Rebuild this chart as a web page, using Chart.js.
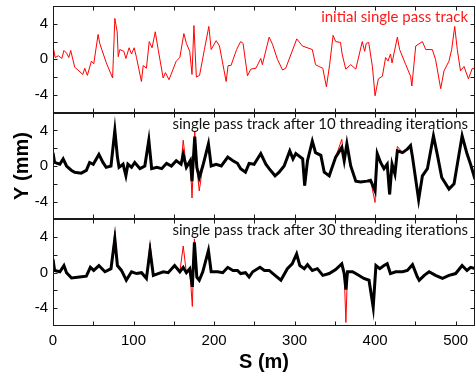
<!DOCTYPE html>
<html>
<head>
<meta charset="utf-8">
<script src="https://cdn.jsdelivr.net/npm/chart.js@4"></script>
<style>
  html, body { margin: 0; padding: 0; background: #fff; }
</style>
</head>
<body>
<canvas id="trackChart" width="476" height="375"></canvas>
<script>
"use strict";

// Panel 1: initial single pass track (S in m, Y in mm)
const sInitial = [0,2.7,6.8,11,13.6,16.8,19.6,22,27,31,37,39.4,42.7,47.7,50.6,56,58,66.2,74,76.8,
  79.7,81,83,88,90.5,94.5,97.5,100.8,103.7,109.8,112,116,119.5,123,127,130.6,136.8,139.6,144,153,
  157.5,162.5,165.6,169.8,172.6,175,178,182,188,193.5,196.4,202.6,206.7,215,217.4,221,228,233,236,241.5,
  245.6,252,258,260,268.4,272.5,278.7,285,289,302.7,309.7,322,326,330,335,339.5,343.5,347.8,351,357,
  359,363.5,369.7,376,384,387,389,392,396.6,399.9,404,409,413,416,419,421,427.6,430.4,438,444,
  445.6,450.4,458.7,462.8,471,475,481.4,485.5,491.7,495,498.8,502,506,510.4,515.8,520.7,524];
const yInitial = [1.5,0.2,0.4,0.1,1.0,0.7,0.2,1.0,-0.9,-1.2,-1.7,-1.0,-1.8,-0.2,-0.5,2.8,1.8,-0.4,-2.1,4.6,
  3.1,0.3,1.1,0.9,0.1,1.3,0.6,1.3,0.2,-2.5,-0.7,-1.0,2.0,1.3,3.1,1.1,-2.1,-1.5,-2.3,-0.2,
  0.2,2.9,1.8,0.9,-1.7,3.8,-2.0,-1.8,1.1,3.7,1.1,2.1,1.5,-2.5,-0.7,-0.7,1.1,2.0,1.8,-1.85,
  -1.1,-1.0,0.1,-0.6,2.5,1.7,0,-1.2,-1.0,2.3,1.5,1.1,-0.6,-0.8,-1.0,-3.1,-0.6,2.7,2.0,1.9,
  0.6,-1.1,-0.6,-1.1,2.0,0.9,1.8,1.9,-0.8,-4.1,-2.2,-1.9,0.2,-0.2,0.6,-0.4,2.5,1.1,-0.6,-1.9,
  -3.0,1.5,2.0,1.1,1.1,0,-3.3,-1.3,-0.2,1.1,3.7,1.1,-1.3,-0.8,-2.2,-1.0,-1.1];

// Panel 2: after 10 threading iterations
const sIter10 = [0,2,8.5,12.6,16.8,23,27,35,41.4,45.5,50,57,62,66,72,76.8,80,82,87,90.5,
  93,97.5,101.5,108,114,119,122.5,129,135,141,147,153,159,161.7,165.6,170.5,172.6,176,178.6,181.6,
  186,193,196.4,202.6,209,217,223.4,229,233,239,243.5,249.7,258,264.3,268.4,275.7,280.8,287,294,298,
  301.5,310,312.5,316,322,326,332.6,336.8,343,351,358.6,361.6,364.9,369.7,376,382,390,394.3,399.9,402.6,
  406.8,411,415,418,421,424.6,427.6,434,440,444,446.4,454,458.7,464.9,472.4,477.4,482.7,491.7,498,508,
  514,518.5,524];
const yIter10 = [1.5,0.4,0.2,0.8,0,-0.5,-0.7,-0.8,-0.5,0.4,0.2,1.3,0.4,-0.15,0,4.0,1.0,-0.15,0.2,-1.1,
  0.2,-0.15,0.4,-0.3,0,2.9,-0.3,-0.15,-0.3,0.3,0,0.6,0.2,1.3,-0.15,0.6,-1.7,3.3,-0.15,-1.3,
  0,2.5,0,0.2,0,1.0,0.6,0.3,-0.3,-0.7,0.3,0.2,1.4,0.2,-0.3,-1.1,-0.7,0,1.7,0.8,
  1.4,0.8,-2.2,0.6,2.8,1.5,1.2,-0.7,-1.1,1.0,2.1,0.6,2.5,0,-1.7,-1.8,-1.7,-1.6,-2.8,1.4,
  0.4,-0.3,0.2,-3.2,0.2,-0.9,1.7,1.5,1.9,2.3,1.0,-3.8,-1.1,-0.3,3.4,1.2,-1.3,-2.6,-2.0,3.4,
  1.4,0.2,-1.5];
const yIter10Raw = [1.9,0.4,0.2,0.8,0,-0.5,-0.7,-0.8,-0.5,0.4,0.2,1.3,0.4,-0.15,0,4.6,1.0,-0.15,0.2,-1.1,
  0.2,-0.15,0.4,-0.3,0,3.4,-0.3,-0.15,-0.3,0.3,0,0.6,0.2,2.9,-0.15,0.6,-3.6,3.9,-0.15,-2.8,
  0,2.5,0,0.2,0,1.0,0.6,0.3,-0.3,-0.7,0.3,0.2,1.4,0.2,-0.3,-1.1,-0.7,0,1.7,0.8,
  1.4,0.8,-2.2,0.6,2.8,1.5,1.2,-0.7,-1.1,1.0,3.0,0.6,2.5,0,-1.7,-1.8,-1.7,-1.6,-4.1,1.4,
  0.4,-0.3,0.2,-3.2,0.2,-0.9,2.2,1.5,1.9,2.3,1.0,-3.8,-1.1,-0.3,3.4,1.2,-1.3,-2.6,-2.0,3.4,
  1.4,0.2,-1.5];

// Panel 3: after 30 threading iterations
const sIter30 = [0,2,8.5,13.6,16.8,23,33,41.4,46.4,50.6,57,64.5,72,76.8,80,85,91,97.5,103.7,110,
  116,120.5,124.6,130.6,137,143,151,157.5,161.7,165.6,169.8,173,175.6,178.6,181.6,186,193,196.4,204.6,210.8,
  217,223.4,229,233,239,243.5,248,257,262.5,268.4,275.7,283,291,297,302.5,306.5,312,316,322,328.3,
  335,343,351,358.6,361.6,363.7,365.7,372,378,386,392.4,397.6,401,405.8,411,415,419,425.5,434,440,
  446.4,452.5,454.7,461,467,475,483.6,491.7,500,508,514,518.5,524];
const yIter30 = [1.5,0.25,0.1,0.8,0,-0.6,-0.5,-0.4,0.6,0.25,0.8,0.1,0.45,3.8,0.8,0.25,-0.85,0.1,-0.1,0,
  -0.65,2.5,-0.3,-0.1,0.1,0,0.8,0.1,0.6,0,0.45,-1.6,3.4,-0.5,-0.85,0.1,2.5,0.1,0.1,0,
  0.6,0.25,0.25,-0.1,0,-0.5,0.1,0.6,0.25,0.25,-0.3,-0.85,0.45,1.0,2.1,0.8,0.45,0.9,0.25,0.45,
  -0.3,-0.1,0.35,1.0,-0.1,-1.9,0.1,0.1,-0.2,-0.65,-0.85,-3.9,0.8,0.45,0.8,1.0,-0.1,0.1,0.1,0.25,
  0.9,-0.5,-0.85,-0.3,0.1,-0.3,-0.65,-0.3,-0.1,0.8,0.25,0.6,0.45];
const yIter30Raw = [2.0,0.25,0.1,0.8,0,-0.6,-0.5,-0.4,0.6,0.25,0.8,0.1,0.45,4.7,0.8,0.25,-0.85,0.1,-0.1,0,
  -0.65,3.3,-0.3,-0.1,0.1,0,0.8,0.1,3.0,0,0.45,-3.8,3.8,-0.5,-0.85,0.1,2.5,0.1,0.1,0,
  0.6,0.25,0.25,-0.1,0,-0.5,0.1,0.6,0.25,0.25,-0.3,-0.85,0.45,1.0,2.1,0.8,0.45,0.9,0.25,0.45,
  -0.3,-0.1,0.35,1.0,-0.1,-5.6,0.1,0.1,-0.2,-0.65,-0.85,-4.0,0.8,0.45,0.8,1.0,-0.1,0.1,0.1,0.25,
  0.9,-0.5,-0.85,-0.3,0.1,-0.3,-0.65,-0.3,-0.1,0.8,0.25,0.6,0.45];

const panelAxes = ['y1', 'y2', 'y3'];
const panelNotes = ['initial single pass track',
  'single pass track after 10 threading iterations',
  'single pass track after 30 threading iterations'];
const noteColors = ['#ff1a1a', '#111111', '#111111'];
const yLabelTicks = [-4, 0, 4];

const RED = '#ff0000';
const BLACK = '#000000';
const tickFont = { family: "'Liberation Sans', Arial, sans-serif", size: 15 };
const titleFont = { family: "'Liberation Sans', Arial, sans-serif", size: 20, weight: 'bold' };

/**
 * Gör om två arrayer till {x, y}-punkter för en linjär x-axel.
 */
function toPoints(s, y) {
    return s.map((x, i) => ({ x: x, y: y[i] }));
}

function lineSet(s, y, axis, color, width) {
    return {
        data: toPoints(s, y),
        yAxisID: axis,
        borderColor: color,
        borderWidth: width,
        pointRadius: 0,
        tension: 0,
        fill: false
    };
}

/**
 * Ritar ram, inåtriktade tickmarkeringar och paneltexter.
 */
const panelFrames = {
    id: 'panelFrames',
    afterDatasetsDraw(chart) {
        const { ctx, chartArea, scales } = chart;
        const xs = scales.x;
        const left = Math.round(chartArea.left) + 0.5;
        const right = Math.round(chartArea.right) - 0.5;

        ctx.save();
        ctx.strokeStyle = '#1a1a1a';
        ctx.lineWidth = 1;

        panelAxes.forEach((id, i) => {
            const ys = scales[id];
            const top = Math.round(ys.top) + 0.5;
            const bottom = Math.round(ys.bottom) - 0.5;

            ctx.strokeRect(left, top, right - left, bottom - top);

            ctx.beginPath();
            xs.ticks.forEach(t => {
                if (t.value % 50 !== 0 || t.value <= xs.min || t.value >= xs.max) return;
                const px = Math.round(xs.getPixelForValue(t.value)) + 0.5;
                ctx.moveTo(px, top);
                ctx.lineTo(px, top + 4);
                ctx.moveTo(px, bottom);
                ctx.lineTo(px, bottom - 4);
            });
            ys.ticks.forEach(t => {
                if (t.value <= ys.min || t.value >= ys.max) return;
                const py = Math.round(ys.getPixelForValue(t.value)) + 0.5;
                ctx.moveTo(left, py);
                ctx.lineTo(left + 4, py);
                ctx.moveTo(right, py);
                ctx.lineTo(right - 4, py);
            });
            ctx.stroke();

            ctx.font = "15px Lato, 'Open Sans', sans-serif";
            ctx.fillStyle = noteColors[i];
            ctx.textAlign = 'right';
            ctx.textBaseline = 'middle';
            ctx.fillText(panelNotes[i], chartArea.right - 7, ys.top + 11);
        });

        ctx.restore();
    }
};

function panelScale(id, weight, showTitle) {
    return {
        type: 'linear',
        position: 'left',
        stack: 'panels',
        stackWeight: 1,
        weight: weight,
        min: -6,
        max: 6,
        afterFit: scale => {
            scale.width = 53;
            scale.paddingTop = 0;
            scale.paddingBottom = 0;
        },
        grid: { display: false, drawTicks: false },
        border: { display: false },
        ticks: {
            stepSize: 2,
            padding: 5,
            autoSkip: false,
            includeBounds: false,
            color: BLACK,
            font: tickFont,
            callback: v => yLabelTicks.includes(v) ? String(v) : ''
        },
        title: {
            display: showTitle,
            text: 'Y (mm)',
            color: BLACK,
            font: titleFont,
            padding: { top: 10, bottom: 0 }
        }
    };
}

const ctx = document.getElementById('trackChart');

new Chart(ctx, {
    type: 'line',
    data: {
        datasets: [
            lineSet(sInitial, yInitial, 'y1', RED, 1),
            lineSet(sIter10, yIter10, 'y2', BLACK, 3),
            lineSet(sIter10, yIter10Raw, 'y2', RED, 1),
            lineSet(sIter30, yIter30, 'y3', BLACK, 3),
            lineSet(sIter30, yIter30Raw, 'y3', RED, 1)
        ]
    },
    options: {
        responsive: false,
        animation: false,
        layout: { padding: { top: 6, right: 1, left: 0, bottom: 0 } },
        plugins: {
            legend: { display: false },
            tooltip: { enabled: false }
        },
        scales: {
            x: {
                type: 'linear',
                position: 'bottom',
                min: 0,
                max: 524,
                afterFit: scale => {
                    scale.height = 49;
                    scale.paddingLeft = 0;
                    scale.paddingRight = 0;
                },
                grid: { display: false, drawTicks: false },
                border: { display: false },
                ticks: {
                    stepSize: 50,
                    padding: 6,
                    maxRotation: 0,
                    autoSkip: false,
                    includeBounds: false,
                    color: BLACK,
                    font: tickFont,
                    callback: v => v % 100 === 0 ? String(v) : ''
                },
                title: {
                    display: true,
                    text: 'S (m)',
                    color: BLACK,
                    font: titleFont,
                    padding: { top: 0, bottom: 1 }
                }
            },
            y1: panelScale('y1', 3, false),
            y2: panelScale('y2', 2, true),
            y3: panelScale('y3', 1, false)
        }
    },
    plugins: [panelFrames]
});
</script>
</body>
</html>
